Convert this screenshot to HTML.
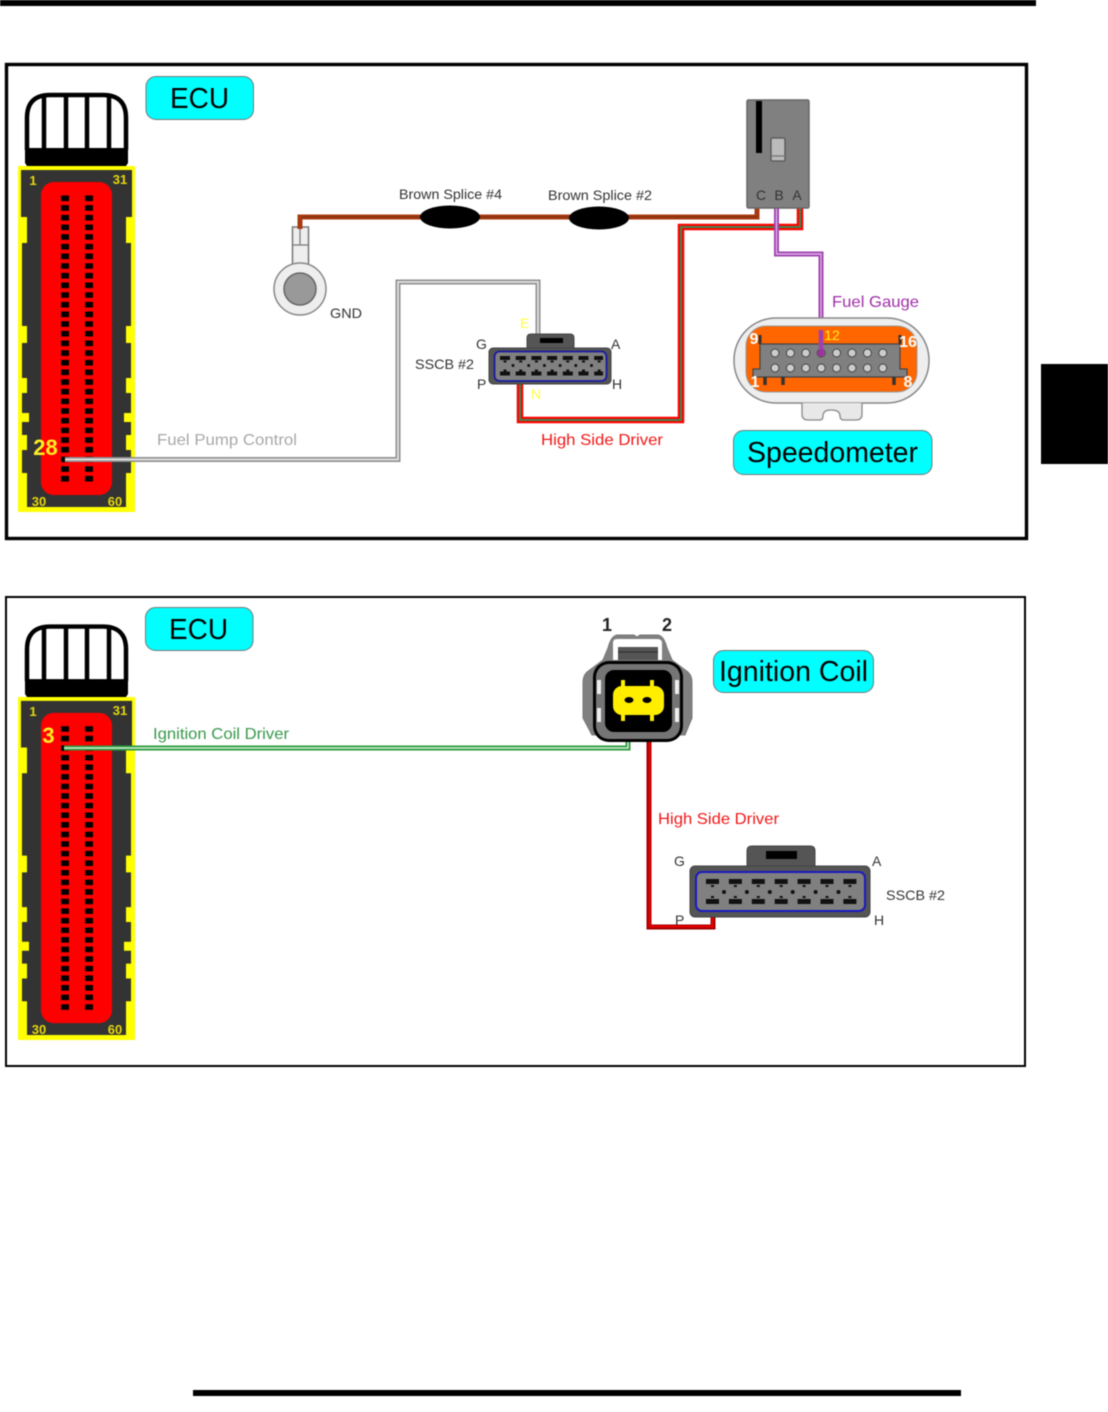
<!DOCTYPE html>
<html><head><meta charset="utf-8"><style>
html,body{margin:0;padding:0;background:#fff}
body{width:1108px;height:1412px;overflow:hidden}
svg{display:block;filter:blur(.45px)}
text{font-family:"Liberation Sans",sans-serif}
</style></head><body>
<svg xmlns="http://www.w3.org/2000/svg" width="1108" height="1412" viewBox="0 0 1108 1412">
<defs>
<g id="ecu">
  <path d="M27,150V118Q27,95 50,95H103Q126,95 126,118V150" fill="#fff" stroke="#000" stroke-width="4.5"/>
  <path d="M44,96V150M66,95V150M87,95V150M109,96V150" stroke="#000" stroke-width="4.5" fill="none"/>
  <path d="M25,148H128V163L126,166H27L25,163Z" fill="#000"/>
  <rect x="18" y="166" width="117" height="346" rx="1" fill="#ffff00"/>
  <path d="M21,170H132V217H126V243H131V326H126V343H131V378H126V393H131V413H124V422H131V435H126V450H131V473H126V507H27V473H22V450H27V435H22V422H29V413H22V393H27V378H22V343H27V326H22V243H27V217H21Z" fill="#333"/>
  <rect x="41" y="182" width="71" height="313" rx="13" fill="#f00"/>
  <path d="M65,195.5V483M89,195.5V483" stroke="#000" stroke-width="8" stroke-dasharray="5.6 4.07" fill="none"/>
  <g font-size="13" font-weight="bold" fill="#e4d80c" text-anchor="middle">
    <text x="33" y="185">1</text><text x="120" y="184">31</text>
  </g>
</g>
</defs>

<rect x="0" y="0" width="1036" height="6" fill="#000"/>
<rect x="1041" y="364" width="67" height="100" fill="#000"/>
<rect x="193" y="1390" width="768" height="6" fill="#000"/>

<!-- Panel 1 -->
<rect x="6.500" y="64.500" width="1020" height="474" fill="#fff" stroke="#000" stroke-width="3.400"/>
<use href="#ecu"/>
<g font-size="13" font-weight="bold" fill="#e4d80c" text-anchor="middle">
  <text x="39" y="506">30</text><text x="115" y="506">60</text>
</g>
<rect x="146" y="76.500" width="107.500" height="43" rx="10" fill="#00ffff" stroke="#777"/>
<text x="170" y="108" font-size="29" textLength="59" lengthAdjust="spacingAndGlyphs">ECU</text>
<text x="45.500" y="455" font-size="22" font-weight="bold" fill="#ffee22" text-anchor="middle">28</text>

<!-- GND -->
<path d="M300,241V217H757V208" fill="none" stroke="#a83a10" stroke-width="5"/>
<path d="M300,217H757" fill="none" stroke="#7a3010" stroke-width="1"/>
<rect x="292.500" y="227" width="16" height="39" fill="#eee" stroke="#777" stroke-width="1.500"/>
<path d="M292,245H309M300,227V245" stroke="#777" stroke-width="1.200"/>
<path d="M300,217V229" stroke="#a83a10" stroke-width="5"/>
<circle cx="300" cy="289" r="26" fill="#eee" stroke="#888" stroke-width="1.500"/>
<circle cx="300" cy="289" r="16" fill="#999" stroke="#666" stroke-width="1.500"/>
<text x="330" y="318" font-size="14" fill="#333" textLength="32" lengthAdjust="spacingAndGlyphs">GND</text>
<ellipse cx="450" cy="217" rx="30" ry="11.500" fill="#000"/>
<ellipse cx="599" cy="218" rx="30" ry="11.500" fill="#000"/>
<text x="399" y="199" font-size="14" fill="#333" textLength="103" lengthAdjust="spacingAndGlyphs">Brown Splice #4</text>
<text x="548" y="200" font-size="14" fill="#333" textLength="104" lengthAdjust="spacingAndGlyphs">Brown Splice #2</text>

<!-- Gray wire -->
<path d="M65,459.500H398V282H538V336" fill="none" stroke="#8f8f8f" stroke-width="5"/>
<path d="M65,459.500H398V282H538V336" fill="none" stroke="#e4e4e4" stroke-width="1.800"/>
<text x="157" y="445" font-size="16" fill="#a8a8a8" textLength="140" lengthAdjust="spacingAndGlyphs">Fuel Pump Control</text>

<!-- Red wire -->
<path d="M800,208V227H681V420H520V383" fill="none" stroke="#f00" stroke-width="6.500"/>
<path d="M800,208V227H681V420H520V383" fill="none" stroke="#3c8a50" stroke-width="2"/>
<text x="541" y="445" font-size="16" fill="#f01818" textLength="122" lengthAdjust="spacingAndGlyphs">High Side Driver</text>

<!-- Purple wire -->
<path d="M776.500,208V254H821V352" fill="none" stroke="#a040b0" stroke-width="5"/>
<path d="M776.500,208V254H821V352" fill="none" stroke="#dcb4e4" stroke-width="1.400"/>

<!-- Relay -->
<rect x="747" y="100" width="62" height="108" rx="1.500" fill="#808080" stroke="#666" stroke-width="1.500"/>
<rect x="756" y="101" width="6" height="52" fill="#000"/>
<rect x="771" y="138" width="14" height="23" rx="1.500" fill="#bbb" stroke="#555" stroke-width="1.300"/>
<path d="M771,156H785" stroke="#777" stroke-width="1.300"/>
<g font-size="14" fill="#333" text-anchor="middle">
  <text x="761" y="200">C</text><text x="779" y="200">B</text><text x="797" y="200">A</text>
</g>

<!-- SSCB 1 -->
<path d="M527,350V338Q527,334 531,334H570Q574,334 574,338V350Z" fill="#555" stroke="#444"/>
<rect x="540" y="338" width="23" height="5" fill="#000"/>
<rect x="489" y="348" width="122" height="36" rx="4" fill="#555" stroke="#444"/>
<rect x="494.500" y="351.500" width="112" height="29.500" rx="5" fill="#808080" stroke="#1a1aa0" stroke-width="1.800"/>
<path d="M500,358H603M500,373.500H603" stroke="#111" stroke-width="4" stroke-dasharray="10 5.700" fill="none"/>
<path d="M503.500,361.500H603M503.500,370.500H603" stroke="#111" stroke-width="2" stroke-dasharray="3 12.700" fill="none"/>
<path d="M513,365.500H600" stroke="#111" stroke-width="3" stroke-linecap="round" stroke-dasharray="0 15.700" fill="none"/>
<g font-size="14" fill="#333">
  <text x="476" y="349">G</text><text x="611" y="349">A</text><text x="477" y="389">P</text><text x="612" y="389">H</text>
  <text x="415" y="369" textLength="59" lengthAdjust="spacingAndGlyphs">SSCB #2</text>
</g>
<text x="520" y="328" font-size="14" fill="#ffff44">E</text>
<text x="531" y="399" font-size="14" fill="#ffff44">N</text>

<!-- Speedometer connector -->
<rect x="734" y="318" width="195" height="85" rx="42" fill="#eee" stroke="#888" stroke-width="1.500"/>
<rect x="746" y="326" width="171" height="66" rx="20" fill="#ff6600" stroke="#999"/>
<path d="M760,335V344M900,335V344" stroke="#333" stroke-width="3"/>
<path d="M760,344H900V369H907V377H753V369H760Z" fill="#808080" stroke="#444" stroke-width="1.200"/>
<path d="M765,377V385M783,377V385M894,377V385" stroke="#333" stroke-width="3.500"/>
<path d="M775,353H890M775,368H890" stroke="#444" stroke-width="9" stroke-linecap="round" stroke-dasharray="0 15.400" fill="none"/>
<path d="M775,353H890M775,368H890" stroke="#ccc" stroke-width="7" stroke-linecap="round" stroke-dasharray="0 15.400" fill="none"/>
<path d="M821,330V352" stroke="#a040b0" stroke-width="4.500"/>
<circle cx="821" cy="353" r="3.500" fill="#a030a0"/>
<path d="M802,403V414Q802,420 808,420H820Q823,420 823,416Q823,410 831,410Q840,410 840,416Q840,420 844,420H856Q862,420 862,414V403" fill="#e8e8e8" stroke="#888" stroke-width="1.300"/>
<g font-size="16" font-weight="bold" fill="#fff" text-anchor="middle">
  <text x="754" y="344">9</text><text x="908" y="347">16</text><text x="755" y="387">1</text><text x="908" y="387">8</text>
</g>
<text x="832" y="340" font-size="14" fill="#ffee22" text-anchor="middle">12</text>
<text x="832" y="307" font-size="16" fill="#a030a8" textLength="87" lengthAdjust="spacingAndGlyphs">Fuel Gauge</text>
<rect x="733.500" y="430.500" width="198.500" height="44" rx="10" fill="#00ffff" stroke="#777"/>
<text x="747" y="462" font-size="29" textLength="171" lengthAdjust="spacingAndGlyphs">Speedometer</text>

<!-- Panel 2 -->
<rect x="6" y="597" width="1019" height="469" fill="#fff" stroke="#000" stroke-width="2"/>
<g transform="translate(0,532.400) scale(1,.9913)"><use href="#ecu"/></g>
<g font-size="13" font-weight="bold" fill="#e4d80c" text-anchor="middle">
  <text x="39" y="1034">30</text><text x="115" y="1034">60</text>
</g>
<rect x="145.500" y="607.500" width="107.500" height="43" rx="10" fill="#00ffff" stroke="#777"/>
<text x="169" y="639" font-size="29" textLength="59" lengthAdjust="spacingAndGlyphs">ECU</text>
<text x="48.500" y="743" font-size="22" font-weight="bold" fill="#ffee22" text-anchor="middle">3</text>

<path d="M64,748H628V738" fill="none" stroke="#2a9a3a" stroke-width="5"/>
<path d="M64,748H628V738" fill="none" stroke="#d8f0dc" stroke-width="1.500"/>
<text x="153" y="739" font-size="16" fill="#38984c" textLength="136" lengthAdjust="spacingAndGlyphs">Ignition Coil Driver</text>

<path d="M649,738V927H713V915" fill="none" stroke="#a00000" stroke-width="5"/>
<path d="M649.500,738V926.500H712.500V915" fill="none" stroke="#e80000" stroke-width="2"/>
<text x="658" y="824" font-size="16" fill="#f01818" textLength="121" lengthAdjust="spacingAndGlyphs">High Side Driver</text>

<!-- Coil -->
<path d="M617,635H634L637,637L640,635H658Q664,636 667,648L672,660L688,672Q692,676 692,682V718L685,735H592L583,718V682Q583,676 587,672L603,660L608,648Q611,636 617,635Z" fill="#808080" stroke="#777"/>
<path d="M613,660V643Q613,639 617,639H657Q662,639 662,643V660Z" fill="#fff"/>
<path d="M618,660V647H658V660Z" fill="#555"/>
<path d="M618,652H658" stroke="#333" stroke-width="1.200"/>
<rect x="593" y="661" width="90" height="81" rx="16" fill="#000"/>
<rect x="596" y="664" width="84" height="75" rx="13" fill="#757575"/>
<rect x="605" y="670" width="67" height="62" rx="9" fill="#000"/>
<rect x="597" y="680" width="4" height="14" fill="#eee"/><rect x="597" y="708" width="4" height="14" fill="#eee"/>
<rect x="675" y="680" width="4" height="14" fill="#eee"/><rect x="675" y="708" width="4" height="14" fill="#eee"/>
<rect x="621" y="680" width="4" height="7" fill="#ffee00"/><rect x="650" y="680" width="4" height="7" fill="#ffee00"/>
<rect x="621" y="714" width="4" height="7" fill="#ffee00"/><rect x="650" y="714" width="4" height="7" fill="#ffee00"/>
<rect x="613" y="686" width="51" height="29" rx="9" fill="#ffee00"/>
<ellipse cx="629" cy="700" rx="4.500" ry="3" fill="#000"/>
<ellipse cx="647" cy="700" rx="4.500" ry="3" fill="#000"/>
<text x="607" y="631" font-size="18" font-weight="bold" fill="#222" text-anchor="middle">1</text>
<text x="667" y="631" font-size="18" font-weight="bold" fill="#222" text-anchor="middle">2</text>
<rect x="713.500" y="650.500" width="160" height="42" rx="10" fill="#00ffff" stroke="#777"/>
<text x="719" y="681" font-size="29" textLength="149" lengthAdjust="spacingAndGlyphs">Ignition Coil</text>

<!-- SSCB 2 -->
<path d="M747,868V851Q747,846 752,846H810Q815,846 815,851V868Z" fill="#555" stroke="#444"/>
<rect x="766" y="851" width="31" height="8" fill="#000"/>
<rect x="690" y="866" width="180" height="51" rx="5" fill="#555" stroke="#444"/>
<rect x="696" y="872" width="169" height="39" rx="6" fill="#808080" stroke="#1a1ac0" stroke-width="2"/>
<path d="M706,881.500H860M706,901.500H860" stroke="#111" stroke-width="5" stroke-dasharray="13 9.900" fill="none"/>
<path d="M711,886H860M711,897H860" stroke="#111" stroke-width="2" stroke-dasharray="3 19.900" fill="none"/>
<path d="M724,892H842" stroke="#111" stroke-width="4" stroke-linecap="round" stroke-dasharray="0 22.900" fill="none"/>
<g font-size="14" fill="#333">
  <text x="674" y="866">G</text><text x="872" y="866">A</text><text x="675" y="925">P</text><text x="874" y="925">H</text>
  <text x="886" y="900" textLength="59" lengthAdjust="spacingAndGlyphs">SSCB #2</text>
</g>
</svg>
</body></html>
